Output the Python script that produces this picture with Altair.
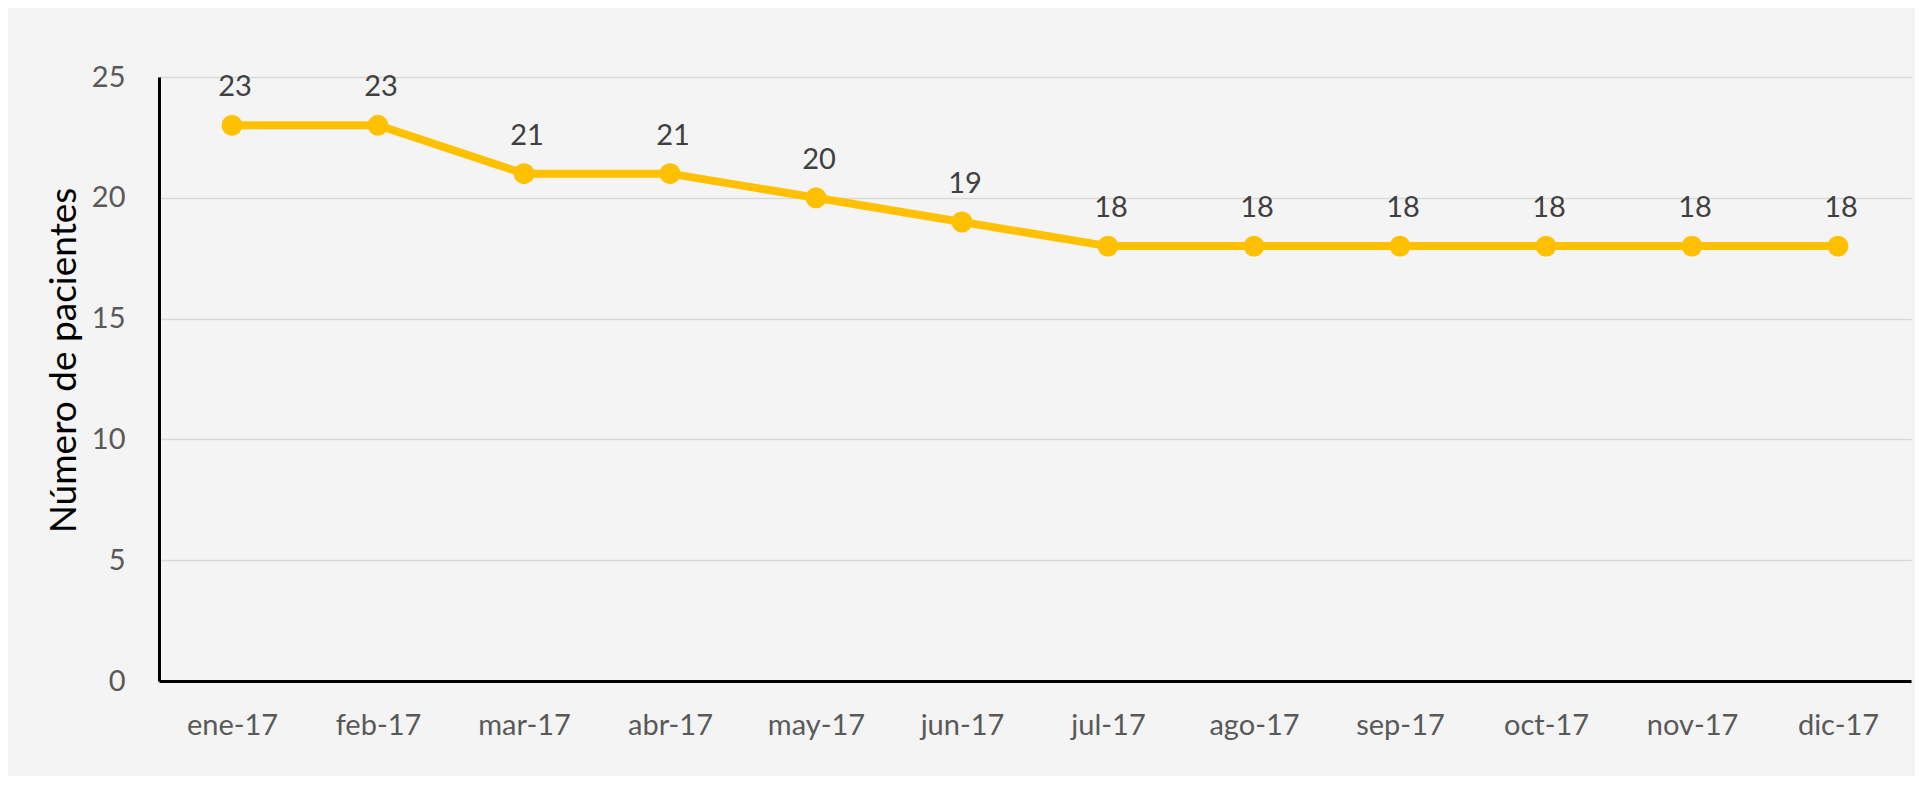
import altair as alt
import pandas as pd

months = ["ene-17", "feb-17", "mar-17", "abr-17", "may-17", "jun-17",
          "jul-17", "ago-17", "sep-17", "oct-17", "nov-17", "dic-17"]
values = [23, 23, 21, 21, 20, 19, 18, 18, 18, 18, 18, 18]
y_ticks = [0, 5, 10, 15, 20, 25]

df = pd.DataFrame({"mes": months, "pacientes": values})

FONT = "Lato"
GOLD = "#FFC000"

x_enc = alt.X(
    "mes:N", sort=months,
    scale=alt.Scale(type="point", padding=0.5),
    axis=alt.Axis(
        title=None, labelFont=FONT, labelFontSize=29, labelColor="#595959",
        labelPadding=44, labelBaseline="middle", labelAngle=0,
        ticks=False, grid=False, domainColor="black", domainWidth=3,
    ),
)
y_enc = alt.Y(
    "pacientes:Q",
    scale=alt.Scale(domain=[0, 25], nice=False),
    axis=alt.Axis(
        values=y_ticks, title="Número de pacientes",
        labelFont=FONT, labelFontSize=29, labelColor="#595959",
        labelPadding=34, ticks=False,
        grid=True, gridColor="#d9d9d9", gridWidth=1.5,
        domainColor="black", domainWidth=3,
        titleFont=FONT, titleFontSize=37, titleFontWeight="normal",
        titleColor="black", titleX=-95, titleY=283, titleBaseline="middle",
    ),
)

base = alt.Chart(df).encode(x=x_enc, y=y_enc)

line = base.mark_line(color=GOLD, strokeWidth=8)
points = base.mark_circle(color=GOLD, size=440, opacity=1)
labels = base.mark_text(
    font=FONT, fontSize=29, color="#404040", dy=-38, dx=3, baseline="middle"
).encode(text="pacientes:Q")

chart = (
    alt.layer(line, points, labels)
    .properties(
        width=1752, height=604,
        autosize=alt.AutoSizeParams(type="none"),
        padding={"left": 151, "top": 69, "right": 4, "bottom": 95},
        background="#f4f4f4",
    )
    .configure_view(stroke=None)
)

chart.save("out.html", embed_options={"renderer": "svg", "actions": False})
